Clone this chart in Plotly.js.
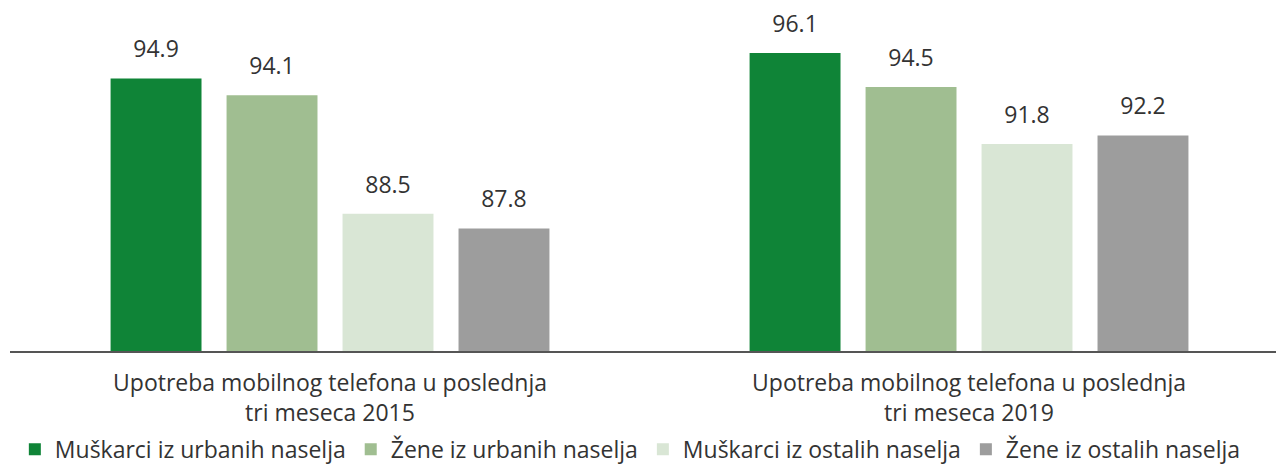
<!DOCTYPE html>
<html><head><meta charset="utf-8">
<script src="https://cdn.plot.ly/plotly-3.0.1.min.js"></script>
<style>html,body{margin:0;padding:0;background:#fff}#chart{width:1276px;height:466px}</style>
</head><body><div id="chart"></div>
<script>
const categories = ["Upotreba mobilnog telefona u poslednja<br>tri meseca 2015", "Upotreba mobilnog telefona u poslednja<br>tri meseca 2019"];
const seriesNames = ["Muškarci iz urbanih naselja", "Žene iz urbanih naselja", "Muškarci iz ostalih naselja", "Žene iz ostalih naselja"];
const menUrban = [94.9, 96.1];
const womenUrban = [94.1, 94.5];
const menOther = [88.5, 91.8];
const womenOther = [87.8, 92.2];
const colors = ["#0f8437", "#a0be91", "#d9e6d5", "#9d9d9d"];

const series = [menUrban, womenUrban, menOther, womenOther];
const traces = [];
series.forEach((vals, i) => {
  traces.push({
    type: 'bar', x: categories, y: vals, name: seriesNames[i],
    marker: {color: colors[i]}, offsetgroup: 'g' + i, hoverinfo: 'skip'
  });
});
series.forEach((vals, i) => {
  traces.push({
    type: 'scatter', mode: 'markers+text', x: categories, y: vals,
    text: vals.map(v => v.toFixed(1)), textposition: 'top center',
    textfont: {size: 23, color: '#333333', family: 'Open Sans'},
    marker: {size: 23, opacity: 0}, offsetgroup: 'g' + i,
    showlegend: false, hoverinfo: 'skip', cliponaxis: false
  });
});

const layout = {
  width: 1276, height: 466,
  margin: {l: 10, r: 0, t: 10, b: 115},
  paper_bgcolor: '#ffffff', plot_bgcolor: '#ffffff',
  font: {family: 'Open Sans', size: 23, color: '#333333'},
  barmode: 'group', bargap: 0.274, bargroupgap: 0.216,
  scattermode: 'group', scattergap: 0.274,
  showlegend: true,
  legend: {orientation: 'h', x: 0.49, xanchor: 'center', yref: 'container', y: 0.036, yanchor: 'middle',
           font: {size: 23, color: '#333333'}, itemclick: false, itemdoubleclick: false},
  xaxis: {type: 'category', range: [-0.5008, 1.4804], showline: true, linecolor: '#555555', linewidth: 1.5,
          showgrid: false, zeroline: false, ticks: '', ticklabelstandoff: 11,
          tickfont: {size: 23, color: '#333333'}},
  yaxis: {visible: false, range: [82, 98.14], showgrid: false, zeroline: false}
};
Plotly.newPlot('chart', traces, layout, {displayModeBar: false, staticPlot: true});
</script></body></html>
